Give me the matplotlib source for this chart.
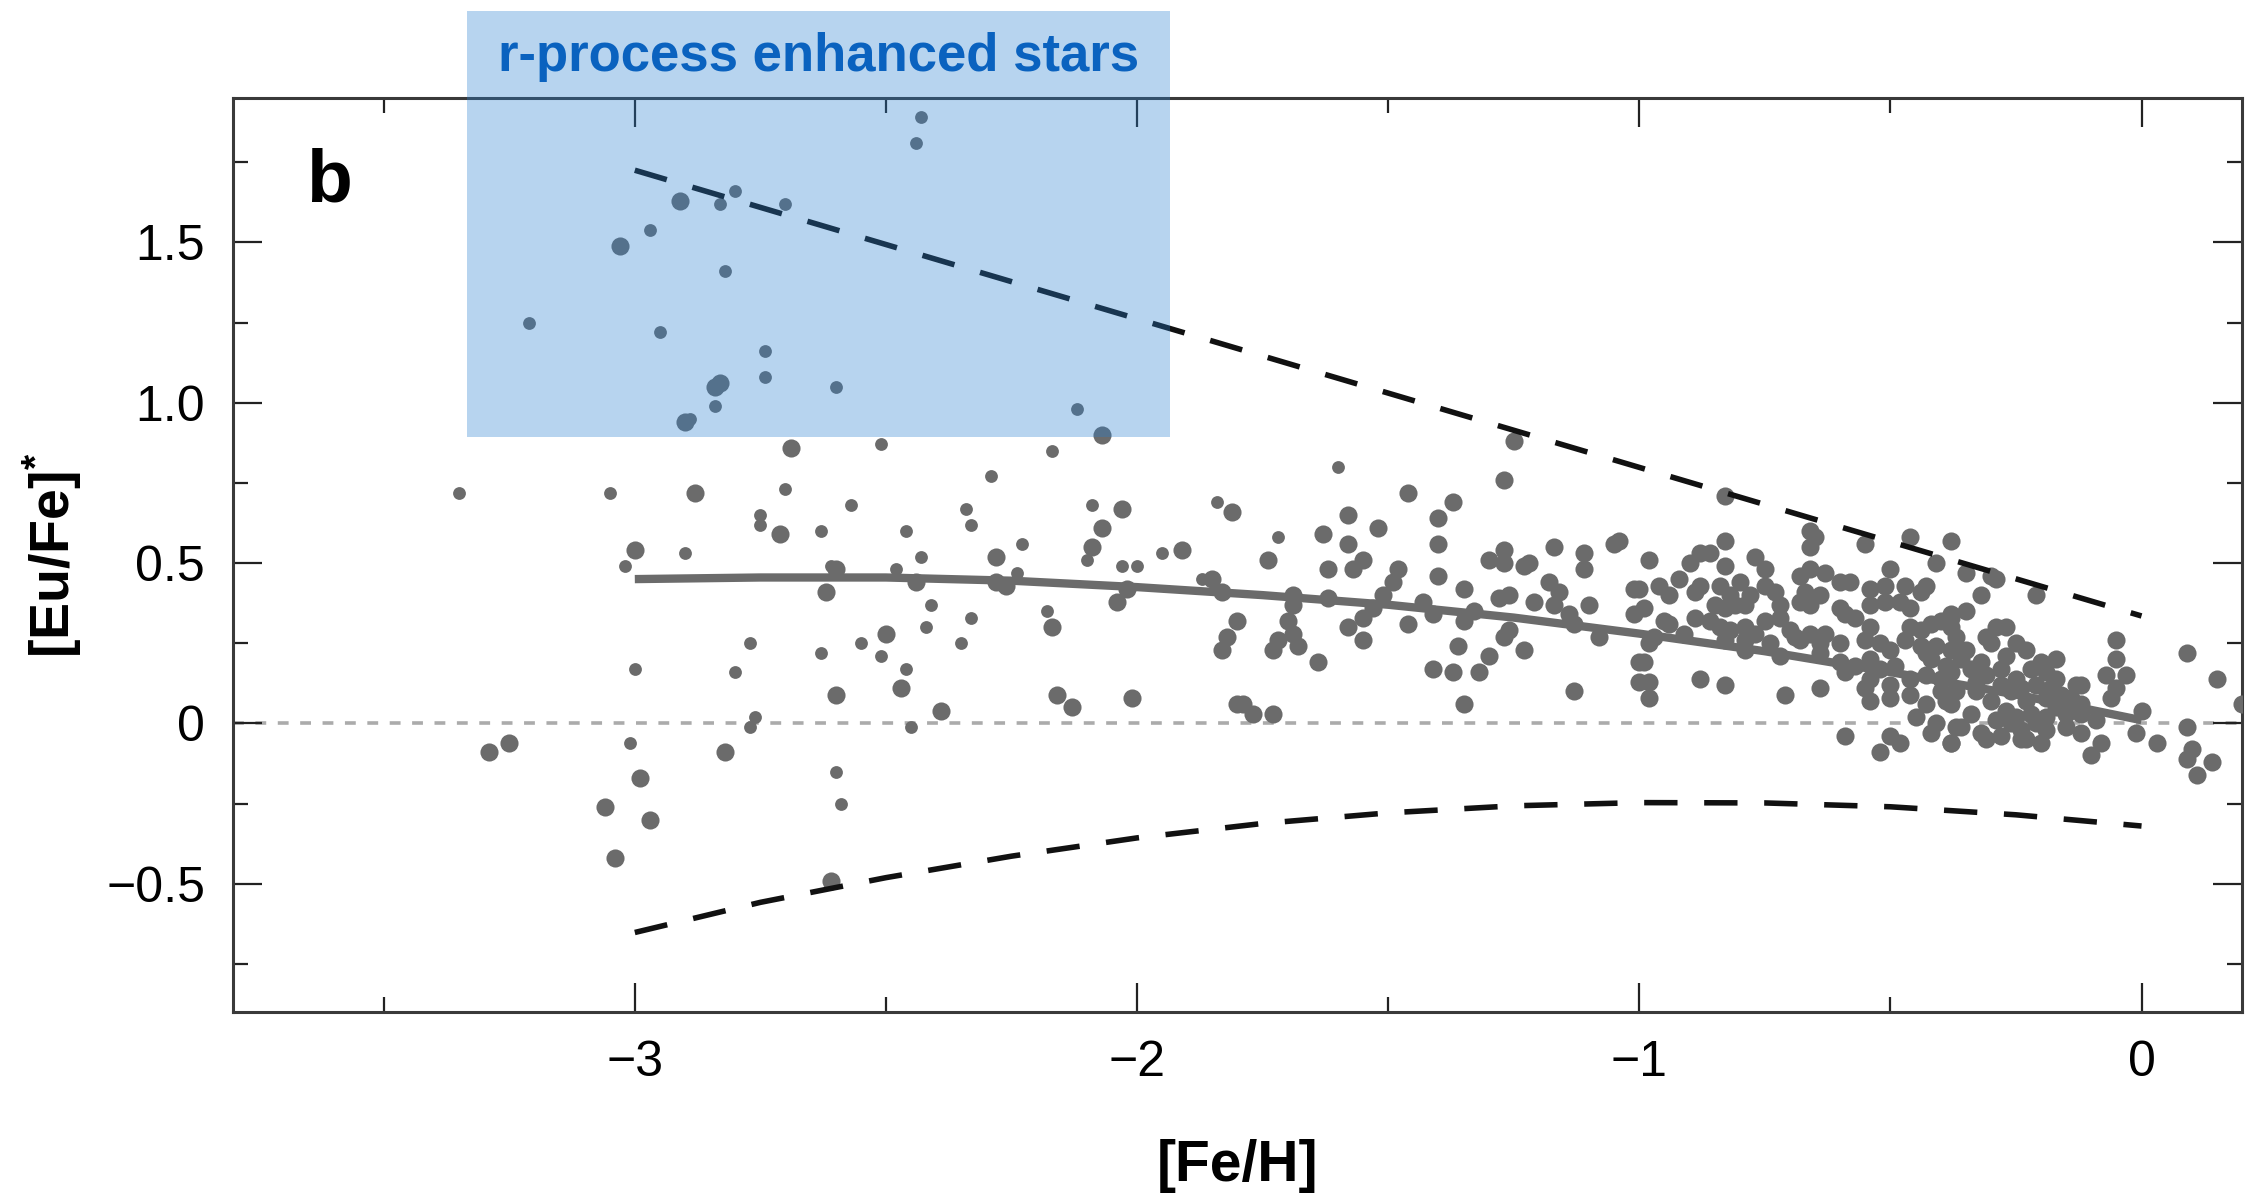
import numpy as np
import matplotlib
matplotlib.use("Agg")
from matplotlib import pyplot as plt
from matplotlib.patches import Rectangle

plt.rcParams["font.family"] = ["Liberation Sans", "DejaVu Sans"]
plt.rcParams["mathtext.fontset"] = "custom"
plt.rcParams["mathtext.rm"] = "Liberation Sans"
plt.rcParams["mathtext.bf"] = "Liberation Sans:bold"

# --- stars drawn with the small symbol: [Fe/H], [Eu/Fe]*
stars_small = np.array([
    [-2.80, 1.66], [-2.83, 1.62], [-2.70, 1.62], [-2.97, 1.54], [-2.82, 1.41],
    [-3.21, 1.25], [-2.95, 1.22], [-2.74, 1.16], [-2.74, 1.08], [-2.60, 1.05],
    [-2.84, 0.99], [-2.89, 0.95], [-3.35, 0.72], [-3.05, 0.72], [-2.70, 0.73],
    [-2.43, 1.89], [-2.44, 1.81], [-2.12, 0.98], [-2.51, 0.87], [-2.17, 0.85],
    [-2.29, 0.77], [-2.75, 0.65], [-2.75, 0.62], [-2.63, 0.60], [-2.90, 0.53],
    [-3.02, 0.49], [-2.61, 0.49], [-2.77, 0.25], [-2.63, 0.22], [-3.00, 0.17],
    [-2.80, 0.16], [-2.76, 0.02], [-2.77, -0.01], [-3.01, -0.06], [-2.60, -0.15],
    [-2.59, -0.25], [-2.57, 0.68], [-2.34, 0.67], [-2.33, 0.62], [-2.09, 0.68],
    [-1.84, 0.69], [-2.46, 0.60], [-2.23, 0.56], [-2.10, 0.51], [-2.43, 0.52],
    [-1.95, 0.53], [-2.03, 0.49], [-2.00, 0.49], [-2.48, 0.48], [-2.24, 0.47],
    [-1.87, 0.45], [-2.41, 0.37], [-2.18, 0.35], [-2.33, 0.33], [-2.42, 0.30],
    [-2.55, 0.25], [-2.35, 0.25], [-2.51, 0.21], [-2.46, 0.17], [-2.45, -0.01],
    [-1.60, 0.80], [-1.72, 0.58],
])

# --- large symbols, metal-poor part
stars_poor = np.array([
    [-2.91, 1.63], [-3.03, 1.49], [-2.84, 1.05], [-2.83, 1.06], [-2.90, 0.94],
    [-2.69, 0.86], [-2.88, 0.72], [-2.07, 0.90], [-2.71, 0.59], [-3.00, 0.54],
    [-2.60, 0.48], [-2.62, 0.41], [-2.60, 0.09], [-3.29, -0.09], [-3.25, -0.06],
    [-2.82, -0.09], [-2.99, -0.17], [-3.06, -0.26], [-2.97, -0.30], [-3.04, -0.42],
    [-2.61, -0.49], [-2.03, 0.67], [-1.81, 0.66], [-2.07, 0.61], [-2.09, 0.55],
    [-2.28, 0.52], [-1.91, 0.54], [-2.44, 0.44], [-2.28, 0.44], [-2.26, 0.43],
    [-2.02, 0.42], [-1.85, 0.45], [-1.83, 0.41], [-2.04, 0.38], [-2.17, 0.30],
    [-2.50, 0.28], [-1.80, 0.32], [-1.82, 0.27], [-1.83, 0.23], [-2.47, 0.11],
    [-2.16, 0.09], [-2.13, 0.05], [-2.01, 0.08], [-1.80, 0.06], [-2.39, 0.04],
])

# --- large symbols, -1.8 < [Fe/H] < -1
stars_mid = np.array([
    [-1.25, 0.88], [-1.27, 0.76], [-1.46, 0.72], [-1.37, 0.69], [-1.58, 0.65],
    [-1.40, 0.64], [-1.52, 0.61], [-1.63, 0.59], [-1.58, 0.56], [-1.40, 0.56],
    [-1.04, 0.57], [-1.05, 0.56], [-1.17, 0.55], [-1.27, 0.54], [-1.11, 0.53],
    [-1.74, 0.51], [-1.55, 0.51], [-1.30, 0.51], [-1.27, 0.50], [-1.23, 0.49],
    [-1.22, 0.50], [-1.48, 0.48], [-1.11, 0.48], [-1.62, 0.48], [-1.57, 0.48],
    [-1.40, 0.46], [-1.49, 0.44], [-1.18, 0.44], [-1.35, 0.42], [-1.16, 0.41],
    [-1.01, 0.42], [-1.51, 0.40], [-1.69, 0.40], [-1.62, 0.39], [-1.28, 0.39],
    [-1.26, 0.40], [-1.43, 0.38], [-1.21, 0.38], [-1.10, 0.37], [-1.17, 0.37],
    [-1.69, 0.37], [-1.53, 0.36], [-1.33, 0.35], [-1.01, 0.34], [-1.41, 0.34],
    [-1.14, 0.34], [-1.55, 0.33], [-1.35, 0.32], [-1.70, 0.32], [-1.13, 0.31],
    [-1.46, 0.31], [-1.58, 0.30], [-1.26, 0.29], [-1.69, 0.28], [-1.08, 0.27],
    [-1.27, 0.27], [-1.72, 0.26], [-1.55, 0.26], [-1.68, 0.24], [-1.36, 0.24],
    [-1.23, 0.23], [-1.73, 0.23], [-1.00, 0.19], [-1.30, 0.21], [-1.64, 0.19],
    [-1.41, 0.17], [-1.37, 0.16], [-1.32, 0.16], [-1.13, 0.10], [-1.35, 0.06],
    [-1.79, 0.06], [-1.77, 0.03], [-1.73, 0.03], [-1.00, 0.13],
])

# --- large symbols, -1 < [Fe/H] < -0.35 (dense disk part)
stars_disk = np.array([
    [-0.83, 0.71], [-0.66, 0.60], [-0.65, 0.58], [-0.66, 0.55], [-0.55, 0.56],
    [-0.46, 0.58], [-0.38, 0.57], [-0.83, 0.57], [-0.98, 0.51], [-0.90, 0.50],
    [-0.88, 0.53], [-0.86, 0.53], [-0.83, 0.49], [-0.77, 0.52], [-0.75, 0.48],
    [-0.50, 0.48], [-0.41, 0.50], [-0.92, 0.45], [-0.80, 0.44], [-0.68, 0.46],
    [-0.66, 0.48], [-0.63, 0.47], [-0.60, 0.44], [-0.54, 0.42], [-0.51, 0.43],
    [-0.47, 0.43], [-0.43, 0.43], [-1.00, 0.42], [-0.96, 0.43], [-0.94, 0.40],
    [-0.89, 0.41], [-0.88, 0.43], [-0.84, 0.43], [-0.82, 0.40], [-0.75, 0.43],
    [-0.73, 0.41], [-0.78, 0.40], [-0.67, 0.41], [-0.64, 0.40], [-0.58, 0.44],
    [-0.44, 0.41], [-0.99, 0.36], [-0.54, 0.37], [-0.51, 0.38], [-0.48, 0.38],
    [-0.46, 0.36], [-0.60, 0.36], [-0.66, 0.37], [-0.68, 0.38], [-0.72, 0.37],
    [-0.85, 0.37], [-0.83, 0.36], [-0.81, 0.37], [-0.79, 0.37], [-0.89, 0.33],
    [-0.86, 0.32], [-0.75, 0.32], [-0.72, 0.33], [-0.59, 0.34], [-0.57, 0.33],
    [-0.40, 0.32], [-0.38, 0.34], [-0.95, 0.32], [-0.94, 0.31], [-0.54, 0.30],
    [-0.46, 0.30], [-0.44, 0.29], [-0.42, 0.31], [-0.97, 0.27], [-0.91, 0.28],
    [-0.84, 0.30], [-0.82, 0.29], [-0.79, 0.30], [-0.77, 0.28], [-0.70, 0.29],
    [-0.69, 0.27], [-0.66, 0.28], [-0.63, 0.28], [-0.60, 0.25], [-0.55, 0.26],
    [-0.52, 0.25], [-0.50, 0.23], [-0.47, 0.26], [-0.44, 0.24], [-0.43, 0.22],
    [-0.98, 0.25], [-0.79, 0.23], [-0.79, 0.26], [-0.83, 0.26], [-0.74, 0.25],
    [-0.72, 0.21], [-0.68, 0.26], [-0.64, 0.25], [-0.64, 0.22], [-0.99, 0.19],
    [-0.60, 0.19], [-0.57, 0.18], [-0.54, 0.20], [-0.52, 0.17], [-0.49, 0.18],
    [-0.42, 0.20], [-0.39, 0.18], [-0.59, 0.16], [-0.54, 0.14], [-0.50, 0.12],
    [-0.46, 0.14], [-0.43, 0.15], [-0.40, 0.14], [-0.38, 0.16], [-0.98, 0.13],
    [-0.88, 0.14], [-0.83, 0.12], [-0.71, 0.09], [-0.64, 0.11], [-0.98, 0.08],
    [-0.55, 0.11], [-0.54, 0.07], [-0.50, 0.08], [-0.46, 0.09], [-0.43, 0.06],
    [-0.39, 0.07], [-0.38, 0.06], [-0.59, -0.04], [-0.50, -0.04], [-0.48, -0.06],
    [-0.52, -0.09], [-0.42, -0.03], [-0.38, -0.06], [-0.37, -0.01],
    [-0.40, 0.10], [-0.41, 0.24], [-0.37, 0.27], [-0.45, 0.02], [-0.41, 0.00],
])

# --- large symbols, [Fe/H] > -0.35
stars_rich = np.array([
    [-0.35, 0.47], [-0.30, 0.46], [-0.29, 0.45], [-0.21, 0.40], [-0.32, 0.40],
    [-0.35, 0.35], [-0.38, 0.33], [-0.38, 0.30], [-0.29, 0.30], [-0.27, 0.30],
    [-0.30, 0.25], [-0.25, 0.25], [-0.23, 0.23], [-0.35, 0.23], [-0.38, 0.23],
    [-0.17, 0.20], [-0.05, 0.26], [-0.05, 0.20], [-0.07, 0.15], [-0.03, 0.15],
    [-0.05, 0.11], [-0.06, 0.08], [0.09, 0.22], [0.15, 0.14], [0.20, 0.06],
    [0.09, -0.01], [0.10, -0.08], [0.09, -0.11], [0.14, -0.12], [0.11, -0.16],
    [0.00, 0.04], [-0.01, -0.03], [0.03, -0.06], [-0.10, -0.10], [-0.08, -0.06],
    [-0.31, -0.05], [-0.24, -0.05], [-0.20, -0.06], [-0.36, -0.01], [-0.38, -0.06],
    [-0.34, 0.17], [-0.32, 0.19], [-0.28, 0.17], [-0.25, 0.14], [-0.22, 0.17],
    [-0.19, 0.16], [-0.17, 0.14], [-0.13, 0.12], [-0.14, 0.08], [-0.37, 0.10],
    [-0.33, 0.10], [-0.30, 0.07], [-0.26, 0.10], [-0.23, 0.07], [-0.19, 0.08],
    [-0.17, 0.05], [-0.12, 0.06], [-0.09, 0.01], [-0.34, 0.03], [-0.29, 0.01],
    [-0.25, 0.02], [-0.21, 0.00], [-0.19, 0.02], [-0.15, -0.01], [-0.23, -0.05],
    [-0.19, -0.02], [-0.12, -0.03], [-0.32, -0.03], [-0.26, 0.00], [-0.12, 0.12],
    [-0.12, 0.03], [-0.36, 0.20], [-0.33, 0.13], [-0.31, 0.15], [-0.28, 0.12],
    [-0.27, 0.04], [-0.24, 0.11], [-0.22, 0.03], [-0.21, 0.12], [-0.18, 0.11],
    [-0.16, 0.09], [-0.15, 0.03], [-0.20, 0.19], [-0.27, 0.21], [-0.31, 0.27],
    [-0.24, -0.02], [-0.28, -0.04],
])

# mean trend and the two envelope curves
trend_feh = [-3.0, -2.75, -2.5, -2.25, -2.0, -1.75, -1.5, -1.25, -1.0, -0.75, -0.5, -0.25, 0.0]
trend_eu = [0.45, 0.455, 0.455, 0.445, 0.425, 0.40, 0.37, 0.33, 0.28, 0.225, 0.16, 0.09, 0.01]
upper_feh = [-3.0, 0.0]
upper_eu = [1.725, 0.335]
lower_feh = [-3.0, -2.75, -2.5, -2.25, -2.0, -1.75, -1.5, -1.25, -1.0, -0.75, -0.5, -0.25, 0.0]
lower_eu = [-0.652, -0.558, -0.481, -0.414, -0.357, -0.312, -0.279, -0.257, -0.247,
            -0.248, -0.26, -0.285, -0.32]

# highlighted r-process region
box_feh = (-3.335, -1.935)
box_eu_min = 0.893

x_ticks = [-3, -2, -1, 0]
x_ticklabels = ["\u22123", "\u22122", "\u22121", "0"]
y_ticks = [-0.5, 0, 0.5, 1.0, 1.5]
y_ticklabels = ["\u22120.5", "0", "0.5", "1.0", "1.5"]

GREY = "#6b6b6b"

fig = plt.figure(figsize=(22.58, 11.93), dpi=100)
ax = fig.add_axes([0.1032, 0.1517, 0.8897, 0.7661])

ax.axhline(0, color="#ababab", lw=2.6, dashes=(3, 3.2), zorder=1)
ax.plot(trend_feh, trend_eu, color=GREY, lw=6, solid_capstyle="butt", zorder=2)
ax.plot(upper_feh, upper_eu, color="#111111", lw=4, dashes=(6, 4.8), zorder=4)
ax.plot(lower_feh, lower_eu, color="#111111", lw=4, dashes=(6, 4.8), zorder=4)

ax.scatter(stars_small[:, 0], stars_small[:, 1], s=85, color=GREY, lw=0, zorder=3)
for grp in (stars_poor, stars_mid, stars_disk, stars_rich):
    ax.scatter(grp[:, 0], grp[:, 1], s=170, color=GREY, lw=0, zorder=3)

ax.set_xlim(-3.8, 0.2)
ax.set_ylim(-0.9, 1.95)

ax.set_xticks(x_ticks)
ax.set_xticklabels(x_ticklabels)
ax.set_xticks([-3.5, -2.5, -1.5, -0.5], minor=True)
ax.set_yticks(y_ticks)
ax.set_yticklabels(y_ticklabels)
ax.set_yticks([-0.75, -0.25, 0.25, 0.75, 1.25, 1.75], minor=True)

ax.tick_params(which="both", direction="in", top=True, right=True,
               width=1.6, color="#222222")
ax.tick_params(which="major", length=21, labelsize=36, pad=20)
ax.tick_params(which="minor", length=11)
for sp in ax.spines.values():
    sp.set_linewidth(2.2)
    sp.set_color("#3a3a3a")

ax.set_xlabel("[Fe/H]", fontsize=41, fontweight="bold", labelpad=38)
ax.set_ylabel(r"$\mathbf{[Eu/Fe]^{*}}$", fontsize=40, labelpad=16)

ax.text(0.0363, 0.887, "b", transform=ax.transAxes, fontsize=54,
        fontweight="bold", ha="left", va="baseline")

# translucent blue overlay, runs above the frame
box = Rectangle((box_feh[0], box_eu_min), box_feh[1] - box_feh[0], 2.22 - box_eu_min,
                facecolor="#277fd1", edgecolor="none", alpha=0.33,
                clip_on=False, zorder=10)
ax.add_patch(box)
ax.text(sum(box_feh) / 2, 2.034, "r-process enhanced stars", color="#0a62bf",
        fontsize=38, fontweight="bold", ha="center", va="baseline",
        zorder=11, clip_on=False)

fig.savefig("out.png", dpi=100, facecolor="white")
